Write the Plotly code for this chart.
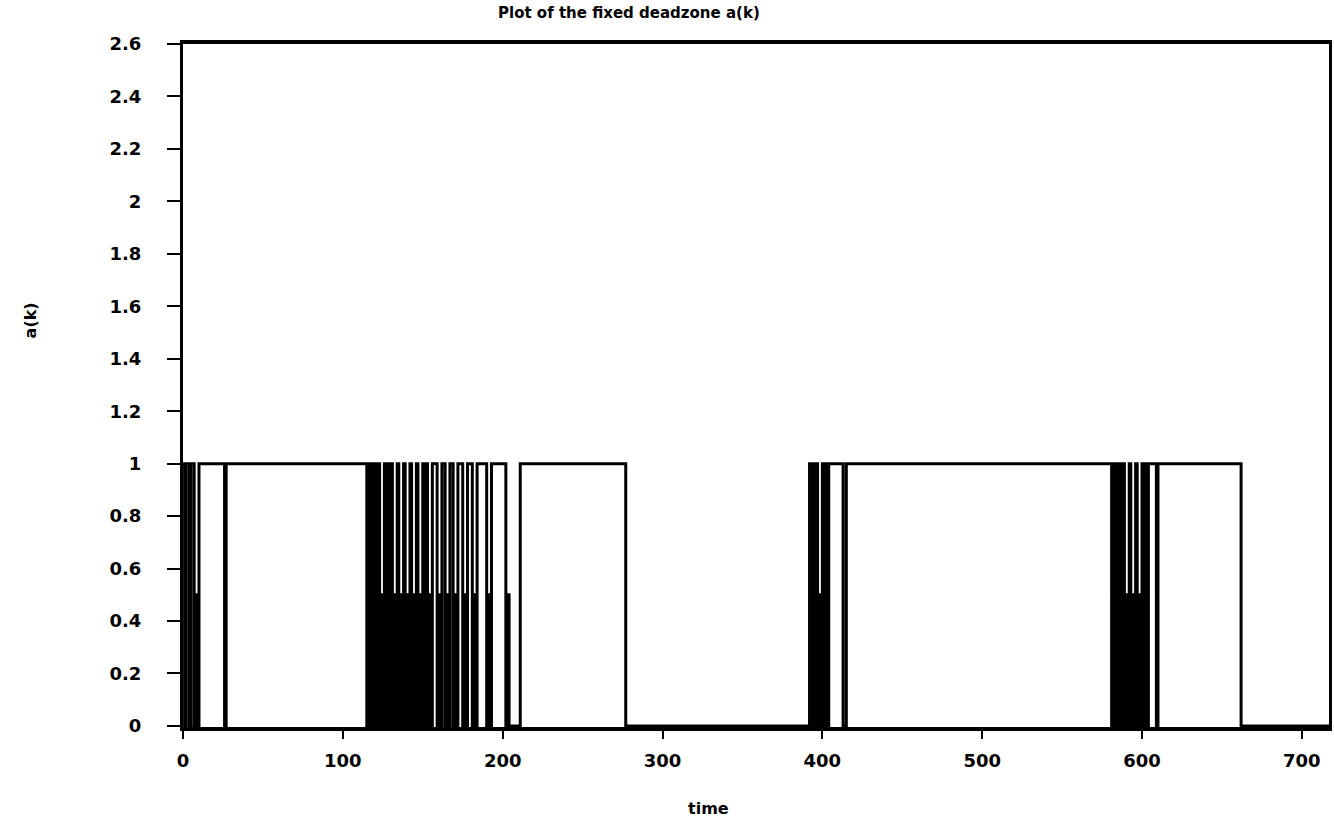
import plotly.graph_objects as go

# Run-length description of a(k): time index where a new level starts, and that level
early_t = [0, 1, 2, 4, 5, 7, 8, 9, 10, 26, 27, 115]
early_v = [1, 0, 1, 0, 1, 0, 0.5, 0, 1, 0, 1, 0]

burst1_t = [116, 117, 118, 119, 120, 121, 122, 123, 124, 125, 126, 127, 128, 129, 130,
            131, 132, 133, 134, 135, 136, 137, 138, 139, 140, 141, 142, 143, 144, 145, 146,
            147, 148, 149, 150, 151, 152, 153, 154, 155, 156, 157]
burst1_v = [1, 0, 1, 0, 1, 0, 1, 0, 0.5, 0, 1, 0, 1, 0, 1,
            0, 0.5, 0, 1, 0, 0.5, 0, 1, 0, 0.5, 0, 1, 0, 0.5, 0, 1,
            0, 0.5, 0, 1, 0, 1, 0, 0.5, 0, 1, 1]

comb_t = [159, 160, 161, 162, 164, 165, 166, 167, 169, 170, 171, 172, 175, 176, 177, 178,
          181, 182, 183, 184, 190, 191, 192, 193, 202, 203, 204, 211, 277]
comb_v = [0, 0.5, 0, 1, 0, 0.5, 0, 1, 0, 0.5, 0, 1, 0, 0.5, 0, 1,
          0, 0.5, 0, 1, 0, 0.5, 0, 1, 0, 0.5, 0, 1, 0]

burst2_t = [392, 393, 394, 395, 396, 397, 398, 399, 400, 401, 402, 403, 404, 405, 413, 415]
burst2_v = [1, 0, 1, 0, 1, 0, 0.5, 0, 1, 0, 1, 0, 1, 1, 0, 1]

burst3_t = [581, 582, 583, 584, 585, 586, 587, 588, 589, 590, 591, 592, 593, 594, 595, 596,
            597, 598, 599, 600, 601, 602, 603, 604, 609, 610, 662, 717]
burst3_v = [0, 1, 0, 1, 0, 1, 0, 1, 0, 0.5, 0, 1, 0, 0.5, 0, 1,
            0, 0.5, 0, 1, 0, 1, 0, 1, 0, 1, 0, 0]

x_ticks = [0, 100, 200, 300, 400, 500, 600, 700]
y_ticks = [0, 0.2, 0.4, 0.6, 0.8, 1, 1.2, 1.4, 1.6, 1.8, 2, 2.2, 2.4, 2.6]
y_labels = ["0", "0.2", "0.4", "0.6", "0.8", "1", "1.2", "1.4", "1.6", "1.8", "2", "2.2", "2.4", "2.6"]

t_all = early_t + burst1_t + comb_t + burst2_t + burst3_t
v_all = early_v + burst1_v + comb_v + burst2_v + burst3_v

FONT = "DejaVu Sans"

fig = go.Figure()
fig.add_trace(go.Scatter(x=t_all, y=v_all, mode="lines", line_shape="hv",
                         line=dict(color="black", width=3), showlegend=False))

fig.update_layout(
    width=1334, height=822,
    margin=dict(l=183, r=2, t=44, b=95),
    paper_bgcolor="white", plot_bgcolor="white",
    font=dict(family=FONT, color="black", size=17),
    xaxis=dict(range=[0, 717], tickvals=x_ticks, ticktext=[str(v) for v in x_ticks],
               ticks="outside", ticklen=8, tickwidth=2, tickcolor="black",
               showline=True, linecolor="black", linewidth=4, mirror=True,
               showgrid=False, zeroline=False, ticklabelstandoff=6,
               tickfont=dict(family=FONT, size=18, weight="bold")),
    yaxis=dict(range=[-0.004, 2.6], tickvals=y_ticks, ticktext=y_labels,
               ticks="outside", ticklen=13, tickwidth=2, tickcolor="black",
               showline=True, linecolor="black", linewidth=3, mirror=True,
               showgrid=False, zeroline=False, ticklabelstandoff=22,
               tickfont=dict(family=FONT, size=18, weight="bold")),
    annotations=[
        dict(text="Plot of the fixed deadzone a(k)", x=630, y=13, showarrow=False,
             font=dict(family=FONT, size=15, weight="bold")),
        dict(text="time", x=710, y=808, showarrow=False,
             font=dict(family=FONT, size=16, weight="bold")),
        dict(text="a(k)", x=30, y=320, textangle=-90, showarrow=False,
             font=dict(family=FONT, size=16, weight="bold")),
    ],
)

# convert pixel-placed annotations to paper coordinates
W, H, L, R, T, B = 1334, 822, 183, 2, 44, 95
pw, ph = W - L - R, H - T - B
new_ann = []
for a in fig.layout.annotations:
    a = a.to_plotly_json()
    a["xref"] = "paper"
    a["yref"] = "paper"
    a["x"] = (a["x"] - L) / pw
    a["y"] = (H - B - a["y"]) / ph
    a["xanchor"] = "center"
    a["yanchor"] = "middle"
    new_ann.append(a)
fig.layout.annotations = new_ann

fig.write_html("out.html", config={"displayModeBar": False})
